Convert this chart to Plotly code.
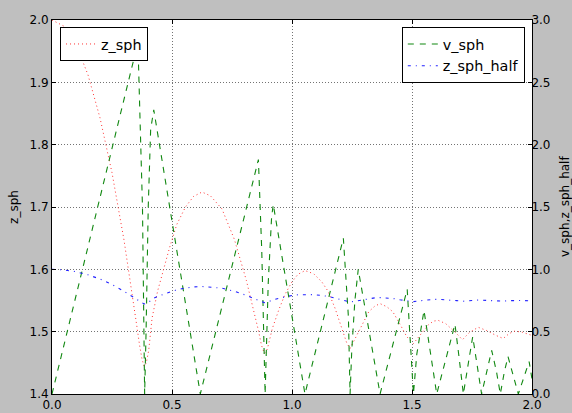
import plotly.graph_objects as go

# ---- data ----
t_z = [0.000, 0.050, 0.100, 0.150, 0.200, 0.250, 0.300, 0.330, 0.355, 0.365,
       0.375, 0.384, 0.393, 0.403, 0.417, 0.440, 0.465, 0.490, 0.520, 0.556,
       0.590, 0.625, 0.660, 0.708, 0.760, 0.810, 0.860, 0.873, 0.885, 0.897,
       0.918, 0.945, 0.971, 1.000, 1.025, 1.054, 1.090, 1.124, 1.150, 1.179,
       1.214, 1.228, 1.242, 1.260, 1.290, 1.320, 1.345, 1.367, 1.395, 1.420,
       1.450, 1.478, 1.506, 1.540, 1.568, 1.590, 1.610, 1.640, 1.686, 1.710,
       1.740, 1.776, 1.810, 1.850, 1.880, 1.905, 1.929, 1.960, 2.000]
z_sph = [2.000, 1.990, 1.961, 1.912, 1.843, 1.755, 1.647, 1.573, 1.505, 1.478,
         1.456, 1.444, 1.450, 1.470, 1.522, 1.565, 1.600, 1.635, 1.672, 1.700,
         1.717, 1.724, 1.718, 1.697, 1.648, 1.582, 1.502, 1.478, 1.465, 1.472,
         1.505, 1.535, 1.560, 1.580, 1.592, 1.598, 1.593, 1.580, 1.565, 1.538,
         1.498, 1.482, 1.473, 1.487, 1.510, 1.532, 1.541, 1.545, 1.540, 1.532,
         1.512, 1.492, 1.481, 1.497, 1.511, 1.517, 1.518, 1.513, 1.497, 1.487,
         1.499, 1.507, 1.502, 1.494, 1.489, 1.497, 1.501, 1.499, 1.494]
z_sph_half = [1.000, 0.995, 0.981, 0.956, 0.922, 0.878, 0.824, 0.787, 0.753, 0.739,
              0.728, 0.722, 0.725, 0.735, 0.761, 0.783, 0.800, 0.818, 0.836, 0.850,
              0.859, 0.862, 0.859, 0.849, 0.824, 0.791, 0.751, 0.739, 0.733, 0.736,
              0.753, 0.768, 0.780, 0.790, 0.796, 0.799, 0.797, 0.790, 0.783, 0.769,
              0.749, 0.741, 0.737, 0.744, 0.755, 0.766, 0.771, 0.773, 0.770, 0.766,
              0.756, 0.746, 0.741, 0.749, 0.756, 0.759, 0.759, 0.757, 0.749, 0.744,
              0.750, 0.754, 0.751, 0.747, 0.745, 0.749, 0.751, 0.750, 0.747]

t_v = [0.000, 0.358, 0.368, 0.377, 0.383, 0.386, 0.392, 0.401, 0.411, 0.424,
       0.618, 0.860, 0.874, 0.881, 0.888, 0.901, 0.915, 0.922, 1.054, 1.214,
       1.235, 1.242, 1.249, 1.262, 1.276, 1.367, 1.480, 1.492, 1.506, 1.520,
       1.550, 1.603, 1.679, 1.697, 1.714, 1.735, 1.753, 1.790, 1.832, 1.852,
       1.868, 1.885, 1.900, 1.943, 1.988, 2.000]
v_sph = [0.00, 2.82, 2.12, 1.50, 0.50, 0.00, 0.50, 1.50, 2.12, 2.28,
         0.00, 1.88, 1.15, 0.62, 0.00, 0.89, 1.42, 1.52, 0.00, 1.25,
         0.62, 0.00, 0.35, 0.75, 1.00, 0.00, 0.84, 0.45, 0.00, 0.32,
         0.67, 0.00, 0.56, 0.28, 0.00, 0.25, 0.46, 0.00, 0.35, 0.18,
         0.00, 0.18, 0.30, 0.00, 0.26, 0.12]

x_ticks = [0.0, 0.5, 1.0, 1.5, 2.0]
y1_ticks = [1.4, 1.5, 1.6, 1.7, 1.8, 1.9, 2.0]
y2_ticks = [0.0, 0.5, 1.0, 1.5, 2.0, 2.5, 3.0]

FONT = "DejaVu Sans"

fig = go.Figure()
fig.add_trace(go.Scatter(x=t_z, y=z_sph, name="z_sph", mode="lines",
                         line=dict(color="#ff3030", width=1, dash="1px,3px"),
                         yaxis="y", legend="legend", showlegend=True))
fig.add_trace(go.Scatter(x=t_v, y=v_sph, name="v_sph", mode="lines",
                         line=dict(color="#118811", width=1.1, dash="6px,6px"),
                         yaxis="y2", legend="legend2", showlegend=True))
fig.add_trace(go.Scatter(x=t_z, y=z_sph_half, name="z_sph_half", mode="lines",
                         line=dict(color="#2020ff", width=1.1, dash="3px,5px,1px,5px"),
                         yaxis="y2", legend="legend2", showlegend=True))

grid = dict(showgrid=True, gridcolor="rgba(0,0,0,0.55)", gridwidth=0.6, griddash="1px,2px")

fig.update_layout(
    width=572, height=413,
    margin=dict(l=52, r=40, t=20, b=19, autoexpand=False),
    paper_bgcolor="#bfbfbf", plot_bgcolor="white",
    font=dict(family=FONT, size=12, color="black"),
    showlegend=True,
    xaxis=dict(range=[0, 2.0], tickvals=x_ticks, ticktext=[f"{v:.1f}" for v in x_ticks],
               ticks="inside", ticklen=4, tickcolor="black", showline=True,
               linecolor="black", linewidth=1, mirror="ticks", zeroline=False,
               automargin=False, **grid),
    yaxis=dict(range=[1.4, 2.0], tickvals=y1_ticks, ticktext=[f"{v:.1f}" for v in y1_ticks],
               ticks="inside", ticklen=4, tickcolor="black", showline=True,
               linecolor="black", linewidth=1, mirror=True, zeroline=False,
               automargin=False,
               title=dict(text="z_sph", standoff=8, font=dict(size=12, family=FONT)),
               **grid),
    yaxis2=dict(range=[0, 3.0], tickvals=y2_ticks, ticktext=[f"{v:.1f}" for v in y2_ticks],
                overlaying="y", side="right", ticks="inside", ticklen=4,
                tickcolor="black", showline=True, linecolor="black", linewidth=1,
                showgrid=False, zeroline=False, automargin=False,
                ticklabelstandoff=-4),
    legend=dict(x=0.0167, y=0.981, xanchor="left", yanchor="top",
                bordercolor="black", borderwidth=1, bgcolor="white",
                font=dict(size=14.4, family=FONT)),
    legend2=dict(x=0.985, y=0.981, xanchor="right", yanchor="top",
                 bordercolor="black", borderwidth=1, bgcolor="white",
                 font=dict(size=14.4, family=FONT)),
    annotations=[
        dict(text="v_sph,z_sph_half", xref="paper", yref="paper", x=1.0, y=0.5,
             xshift=33, textangle=-90, showarrow=False,
             font=dict(size=12, family=FONT), xanchor="center", yanchor="middle"),
    ],
)

fig.write_html("out.html",
               config={"displayModeBar": False},
               post_script="document.body.style.margin='0';document.body.style.padding='0';")
